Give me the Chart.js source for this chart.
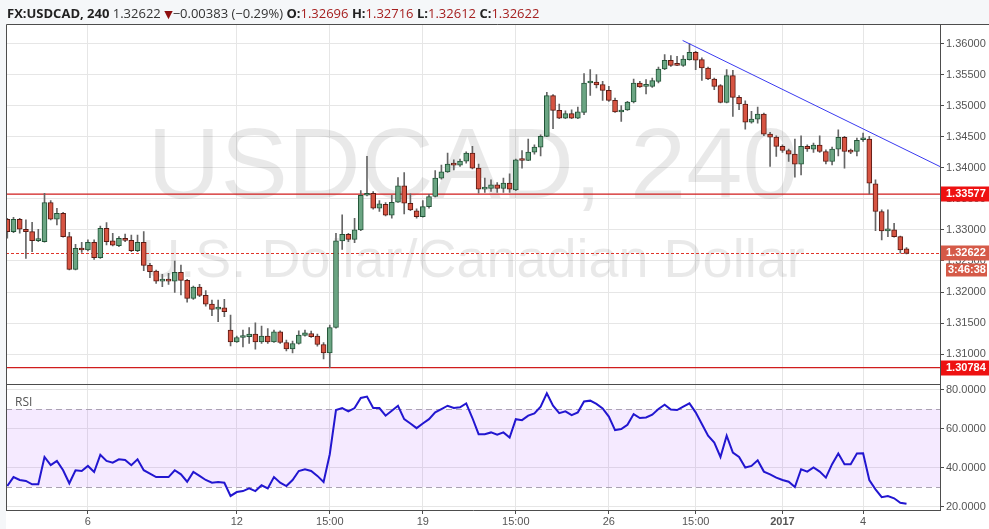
<!DOCTYPE html>
<html>
<head>
<meta charset="utf-8">
<script src="https://cdn.jsdelivr.net/npm/chart.js@4.4.1/dist/chart.umd.min.js"></script>
<style>
  html, body { margin: 0; padding: 0; background: #f5f7f9; }
  #wrap { position: relative; width: 989px; height: 529px; overflow: hidden; }
  #chart { position: absolute; left: 0; top: 0; }
  #hdr {
    position: absolute; left: 7px; top: 4px; white-space: nowrap;
    font: 13px "Open Sans", "DejaVu Sans", sans-serif; color: #333;
  }
  #hdr b { color: #222; }
  #hdr .v { color: #a51f1f; }
  #hdr .dn { color: #8e0f0f; font-size: 11px; }
</style>
</head>
<body>
<div id="wrap">
  <canvas id="chart" width="989" height="529"></canvas>
  <div id="hdr"><b>FX:USDCAD, 240</b> 1.32622 <span class="dn">&#9660;</span>&minus;0.00383 (&minus;0.29%) <b>O:</b><span class="v">1.32696</span> <b>H:</b><span class="v">1.32716</span> <b>L:</b><span class="v">1.32612</span> <b>C:</b><span class="v">1.32622</span></div>
</div>
<script>
// 4h candles, oldest first
const opens = [
  1.33172, 1.32973, 1.33172, 1.33011, 1.32973, 1.32828, 1.32812, 1.33441, 1.33172, 1.33269,
  1.32892, 1.32366, 1.32704, 1.32677, 1.32801, 1.32554, 1.33027, 1.32823, 1.32747, 1.32866,
  1.32833, 1.32667, 1.32801, 1.32430, 1.32339, 1.32177, 1.32188, 1.32177, 1.32317, 1.32188,
  1.31898, 1.32081, 1.31946, 1.31806, 1.31726, 1.31747, 1.31387, 1.31199, 1.31269, 1.31280,
  1.31323, 1.31199, 1.31290, 1.31199, 1.31360, 1.31188, 1.31086, 1.31172, 1.31301, 1.31333,
  1.31290, 1.31156, 1.31022, 1.31430, 1.32823, 1.32930, 1.32849, 1.33000, 1.33559, 1.33591,
  1.33349, 1.33414, 1.33236, 1.33446, 1.33710, 1.33430, 1.33306, 1.33215, 1.33376, 1.33538,
  1.33833, 1.33935, 1.34059, 1.34043, 1.34107, 1.34236, 1.33995, 1.33656, 1.33667, 1.33726,
  1.33667, 1.33753, 1.33645, 1.34129, 1.34118, 1.34253, 1.34333, 1.34505, 1.35161, 1.34925,
  1.34801, 1.34871, 1.34801, 1.34892, 1.35365, 1.35382, 1.35339, 1.35247, 1.35086, 1.34898,
  1.34930, 1.35059, 1.35365, 1.35312, 1.35312, 1.35392, 1.35591, 1.35731, 1.35661, 1.35650,
  1.35742, 1.35860, 1.35742, 1.35607, 1.35430, 1.35322, 1.35054, 1.35484, 1.35134, 1.35027,
  1.34736, 1.34785, 1.34865, 1.34543, 1.34494, 1.34344, 1.34279, 1.34220, 1.34059, 1.34344,
  1.34301, 1.34365, 1.34263, 1.34102, 1.34301, 1.34489, 1.34263, 1.34263, 1.34451, 1.34462,
  1.33742, 1.33296, 1.32984, 1.33000, 1.32892, 1.32696
]
const highs = [
  1.33188, 1.33204, 1.33188, 1.33161, 1.33124, 1.33011, 1.33591, 1.33473, 1.33349, 1.33285,
  1.32962, 1.32769, 1.32801, 1.32839, 1.32839, 1.33064, 1.33118, 1.32946, 1.32892, 1.32935,
  1.32919, 1.32919, 1.32973, 1.32462, 1.32355, 1.32285, 1.32301, 1.32500, 1.32435, 1.32204,
  1.32097, 1.32124, 1.32022, 1.31871, 1.31871, 1.31882, 1.31629, 1.31290, 1.31387, 1.31430,
  1.31505, 1.31452, 1.31414, 1.31387, 1.31376, 1.31226, 1.31210, 1.31376, 1.31387, 1.31371,
  1.31323, 1.31188, 1.31468, 1.32946, 1.33242, 1.32946, 1.33188, 1.33634, 1.34183, 1.33618,
  1.33473, 1.33441, 1.33559, 1.33844, 1.33925, 1.33581, 1.33339, 1.33473, 1.33575, 1.33957,
  1.34043, 1.34236, 1.34129, 1.34140, 1.34258, 1.34344, 1.34059, 1.33833, 1.33806, 1.33763,
  1.33833, 1.33903, 1.34140, 1.34279, 1.34462, 1.34371, 1.34532, 1.35215, 1.35177, 1.35027,
  1.34919, 1.34935, 1.34978, 1.35516, 1.35580, 1.35500, 1.35392, 1.35312, 1.35124, 1.35000,
  1.35070, 1.35430, 1.35392, 1.35419, 1.35446, 1.35623, 1.35822, 1.35806, 1.35795, 1.35806,
  1.36000, 1.35876, 1.35769, 1.35623, 1.35446, 1.35339, 1.35580, 1.35570, 1.35161, 1.35080,
  1.34908, 1.34978, 1.34882, 1.34570, 1.34516, 1.34371, 1.34301, 1.34462, 1.34516, 1.34371,
  1.34398, 1.34516, 1.34290, 1.34333, 1.34613, 1.34505, 1.34301, 1.34478, 1.34559, 1.34505,
  1.33806, 1.33323, 1.33323, 1.33107, 1.32903, 1.32716
]
const lows = [
  1.32866, 1.32957, 1.32946, 1.32543, 1.32650, 1.32812, 1.32801, 1.33161, 1.33081, 1.32882,
  1.32355, 1.32355, 1.32640, 1.32661, 1.32527, 1.32543, 1.32758, 1.32742, 1.32731, 1.32812,
  1.32650, 1.32650, 1.32344, 1.32231, 1.32140, 1.32086, 1.32124, 1.31995, 1.31952, 1.31839,
  1.31882, 1.31925, 1.31774, 1.31618, 1.31522, 1.31602, 1.31134, 1.31188, 1.31118, 1.31172,
  1.31081, 1.31172, 1.31172, 1.31188, 1.31172, 1.31054, 1.31022, 1.31161, 1.31290, 1.31269,
  1.31129, 1.30925, 1.30784, 1.31420, 1.32688, 1.32812, 1.32796, 1.32990, 1.33548, 1.33333,
  1.33296, 1.33226, 1.33188, 1.33441, 1.33258, 1.33312, 1.33188, 1.33204, 1.33349, 1.33530,
  1.33817, 1.33925, 1.33968, 1.34021, 1.34075, 1.33984, 1.33591, 1.33602, 1.33618, 1.33602,
  1.33602, 1.33602, 1.33634, 1.33995, 1.34113, 1.34220, 1.34193, 1.34500, 1.34629, 1.34790,
  1.34790, 1.34790, 1.34790, 1.34855, 1.35167, 1.35285, 1.35086, 1.35070, 1.34892, 1.34747,
  1.34925, 1.35043, 1.35296, 1.35188, 1.35296, 1.35365, 1.35580, 1.35634, 1.35645, 1.35634,
  1.35731, 1.35580, 1.35408, 1.35419, 1.35258, 1.35043, 1.35043, 1.34828, 1.34935, 1.34624,
  1.34720, 1.34720, 1.34516, 1.34021, 1.34183, 1.34247, 1.34102, 1.33849, 1.33887, 1.34263,
  1.34247, 1.34247, 1.34064, 1.34048, 1.34193, 1.33995, 1.34226, 1.34193, 1.34425, 1.33581,
  1.32989, 1.32839, 1.32892, 1.32882, 1.32624, 1.32612
]
const closes = [
  1.32973, 1.33172, 1.33011, 1.32973, 1.32828, 1.32849, 1.33441, 1.33172, 1.33269, 1.32892,
  1.32366, 1.32704, 1.32677, 1.32801, 1.32554, 1.33027, 1.32812, 1.32753, 1.32866, 1.32833,
  1.32667, 1.32801, 1.32430, 1.32328, 1.32177, 1.32188, 1.32177, 1.32317, 1.32188, 1.31898,
  1.32081, 1.31946, 1.31806, 1.31720, 1.31737, 1.31683, 1.31199, 1.31269, 1.31290, 1.31323,
  1.31199, 1.31290, 1.31199, 1.31360, 1.31188, 1.31086, 1.31172, 1.31307, 1.31344, 1.31280,
  1.31156, 1.31022, 1.31430, 1.32823, 1.32930, 1.32849, 1.33000, 1.33559, 1.33591, 1.33349,
  1.33419, 1.33236, 1.33446, 1.33710, 1.33430, 1.33323, 1.33215, 1.33376, 1.33538, 1.33833,
  1.33935, 1.34059, 1.34043, 1.34107, 1.34236, 1.33995, 1.33656, 1.33672, 1.33726, 1.33667,
  1.33753, 1.33656, 1.34129, 1.34118, 1.34253, 1.34333, 1.34505, 1.35161, 1.34925, 1.34801,
  1.34871, 1.34801, 1.34903, 1.35365, 1.35382, 1.35333, 1.35247, 1.35086, 1.34898, 1.34930,
  1.35059, 1.35365, 1.35301, 1.35322, 1.35403, 1.35591, 1.35731, 1.35650, 1.35650, 1.35752,
  1.35860, 1.35731, 1.35607, 1.35430, 1.35312, 1.35054, 1.35484, 1.35134, 1.35027, 1.34736,
  1.34785, 1.34865, 1.34543, 1.34494, 1.34344, 1.34279, 1.34220, 1.34059, 1.34344, 1.34306,
  1.34365, 1.34263, 1.34102, 1.34301, 1.34489, 1.34263, 1.34253, 1.34441, 1.34462, 1.33753,
  1.33296, 1.32984, 1.33000, 1.32892, 1.32677, 1.32622
]
const rsi = [
  30.5, 35.1, 33.6, 33.1, 31.4, 31.4, 45.4, 41.2, 43.4, 38.6,
  31.9, 38.6, 38.2, 40.8, 37.7, 46.5, 43.4, 42.5, 44.2, 43.9,
  41.2, 44.2, 38.6, 36.9, 35.1, 35.1, 35.1, 38.6, 36.5, 32.7,
  37.7, 35.7, 33.6, 32.2, 32.6, 32.2, 25.4, 27.4, 27.9, 29.3,
  27.9, 30.9, 29.3, 35.1, 32.2, 30.5, 33.6, 38.2, 39.1, 38.2,
  35.7, 32.6, 46.8, 69.5, 70.5, 68.8, 70.5, 75.7, 76.4, 70.5,
  70.5, 66.6, 69.1, 71.7, 64.8, 62.6, 60.2, 62.6, 64.8, 68.3,
  70.0, 71.7, 70.5, 70.9, 72.9, 65.4, 57.1, 57.1, 58.0, 56.8,
  58.0, 55.4, 64.8, 64.3, 66.6, 67.8, 71.2, 78.1, 71.7, 67.9,
  68.8, 66.9, 68.3, 73.9, 74.3, 72.6, 70.3, 66.1, 59.2, 59.7,
  61.9, 67.4, 65.4, 65.7, 67.1, 70.0, 72.2, 69.7, 69.5, 71.2,
  72.9, 68.3, 62.3, 56.3, 52.8, 45.4, 56.3, 47.7, 45.4, 40.0,
  40.8, 43.7, 37.9, 36.5, 34.8, 33.6, 32.7, 30.0, 39.1, 37.9,
  40.0, 37.9, 34.8, 41.7, 47.2, 41.7, 41.7, 47.2, 47.3, 33.6,
  28.8, 24.8, 25.4, 24.2, 21.9, 21.4
]

// axis ticks
const timeTickIdx = [13, 37, 52, 67, 82, 97, 111, 125, 138]
const timeTickLabels = ['6', '12', '15:00', '19', '15:00', '26', '15:00', '2017', '4']
const priceTicks = [1.31, 1.315, 1.32, 1.325, 1.33, 1.335, 1.34, 1.345, 1.35, 1.355, 1.36]
const rsiTicks = [20, 40, 60, 80]
const rsiBand = [30, 70]

// drawn levels
const levels = [1.33577, 1.30784]
const lastPrice = 1.32622
const countdown = '3:46:38'
const trendX = [108.9, 150.4]
const trendY = [1.3605, 1.3402]

const UP = '#6ba583', DOWN = '#d75442'
const UP_BORDER = '#225437', DOWN_BORDER = '#5b1a13'
const FRAME = '#4d4d4d'
const GRID = '#e6e6e6'
const TEXT = '#555'

const idx = closes.map((_, i) => i)
const isUp = i => closes[i] >= opens[i]

const fixWidth = w => scale => { scale.width = w }

const panesPlugin = {
  id: 'panes',
  beforeDraw(chart) {
    const { ctx, chartArea } = chart
    ctx.save()
    ctx.fillStyle = '#fff'
    ctx.fillRect(chartArea.left, chartArea.top, chart.width - chartArea.left, chart.height - chartArea.top)
    ctx.restore()
  },
  beforeDatasetsDraw(chart) {
    const { ctx, chartArea } = chart
    const y = chart.scales.y, y2 = chart.scales.y2
    const cx = (chartArea.left + chartArea.right) / 2
    ctx.save()
    // watermark
    ctx.fillStyle = 'rgba(0,0,0,0.085)'
    ctx.textAlign = 'center'
    ctx.textBaseline = 'middle'
    const ph = y.bottom - y.top
    ctx.font = '101px "Liberation Sans", Arial, sans-serif'
    ctx.fillText('USDCAD, 240', cx, y.top + ph * 0.405)
    ctx.font = '54px "Liberation Sans", Arial, sans-serif'
    ctx.fillText('U.S. Dollar/Canadian Dollar', cx, y.top + ph * 0.66)

    // RSI band
    const b0 = y2.getPixelForValue(rsiBand[1]), b1 = y2.getPixelForValue(rsiBand[0])
    ctx.fillStyle = 'rgba(160, 60, 255, 0.11)'
    ctx.fillRect(chartArea.left, b0, chartArea.right - chartArea.left, b1 - b0)
    ctx.strokeStyle = '#aaa2b2'
    ctx.lineWidth = 1
    ctx.setLineDash([6, 4])
    rsiBand.forEach(v => {
      const py = Math.round(y2.getPixelForValue(v)) + 0.5
      ctx.beginPath(); ctx.moveTo(chartArea.left, py); ctx.lineTo(chartArea.right, py); ctx.stroke()
    })

    // horizontal levels
    ctx.setLineDash([])
    ctx.strokeStyle = '#d01c1c'
    ctx.lineWidth = 1.3
    levels.forEach(v => {
      const py = y.getPixelForValue(v)
      ctx.beginPath(); ctx.moveTo(chartArea.left, py); ctx.lineTo(chartArea.right, py); ctx.stroke()
    })
    ctx.setLineDash([3, 2])
    ctx.lineWidth = 1
    ctx.strokeStyle = '#e0352a'
    const lp = Math.round(y.getPixelForValue(lastPrice)) + 0.5
    ctx.beginPath(); ctx.moveTo(chartArea.left, lp); ctx.lineTo(chartArea.right, lp); ctx.stroke()
    ctx.restore()
  },
  afterDraw(chart) {
    const { ctx, chartArea } = chart
    const y = chart.scales.y
    ctx.save()
    // frame and pane separator
    ctx.strokeStyle = FRAME
    ctx.lineWidth = 1
    ctx.beginPath()
    ctx.moveTo(chartArea.left + 0.5, chartArea.bottom)
    ctx.lineTo(chartArea.left + 0.5, chartArea.top + 0.5)
    ctx.lineTo(chart.width, chartArea.top + 0.5)
    ctx.moveTo(chartArea.left, Math.round(y.bottom) + 0.5)
    ctx.lineTo(chartArea.right, Math.round(y.bottom) + 0.5)
    ctx.stroke()

    ctx.fillStyle = TEXT
    ctx.font = '12px "Open Sans", sans-serif'
    ctx.textBaseline = 'middle'
    ctx.fillText('RSI', chartArea.left + 9, y.bottom + 18)

    // price labels on the axis
    const tag = (v, text, color, x0, x1) => {
      const py = y.getPixelForValue(v)
      ctx.fillStyle = color
      ctx.fillRect(x0, Math.round(py) - 7.5, x1 - x0, 15)
      ctx.fillStyle = '#fff'
      ctx.font = 'bold 11px "Liberation Sans", Arial, sans-serif'
      ctx.textAlign = 'left'
      ctx.fillText(text, chartArea.right + 6, Math.round(py))
    }
    levels.forEach(v => tag(v, v.toFixed(5), '#ee1111', chartArea.right + 1, chart.width))
    tag(lastPrice, lastPrice.toFixed(5), '#d55a48', chartArea.right + 1, chart.width)
    const cy = Math.round(y.getPixelForValue(lastPrice)) + 17
    ctx.fillStyle = '#d55a48'
    ctx.fillRect(chartArea.right + 6, cy - 6.5, 41, 13)
    ctx.fillStyle = '#fff'
    ctx.fillText(countdown, chartArea.right + 8, cy)
    ctx.restore()
  }
}

new Chart(document.getElementById('chart'), {
  type: 'bar',
  data: {
    datasets: [
      {
        type: 'line',
        data: trendX.map((x, i) => ({ x, y: trendY[i] })),
        yAxisID: 'y',
        borderColor: '#3a3af0',
        borderWidth: 1,
        pointRadius: 0,
        order: 0
      },
      {
        data: idx.map(i => ({ x: i, y: [opens[i], closes[i]] })),
        yAxisID: 'y',
        grouped: false,
        barThickness: 5,
        minBarLength: 2,
        borderWidth: 1,
        borderSkipped: false,
        backgroundColor: c => isUp(c.dataIndex) ? UP : DOWN,
        borderColor: c => isUp(c.dataIndex) ? UP_BORDER : DOWN_BORDER,
        order: 1
      },
      {
        data: idx.map(i => ({ x: i, y: [lows[i], highs[i]] })),
        yAxisID: 'y',
        grouped: false,
        barThickness: 1,
        borderWidth: 0,
        backgroundColor: '#666',
        order: 2
      },
      {
        type: 'line',
        data: idx.map(i => ({ x: i, y: rsi[i] })),
        yAxisID: 'y2',
        borderColor: '#2216d0',
        borderWidth: 2,
        pointRadius: 0,
        tension: 0,
        order: 0
      }
    ]
  },
  options: {
    responsive: false,
    animation: false,
    devicePixelRatio: 1,
    layout: { padding: { left: 6, top: 24, right: 0, bottom: 0 } },
    plugins: { legend: { display: false }, tooltip: { enabled: false } },
    scales: {
      x: {
        type: 'linear',
        offset: false,
        min: -0.21,
        max: 150.4,
        afterBuildTicks: s => { s.ticks = timeTickIdx.map(v => ({ value: v })) },
        afterFit: s => { s.height = 19 },
        ticks: {
          autoSkip: false,
          maxRotation: 0,
          padding: 1,
          color: TEXT,
          font: c => ({ size: 11, family: '"Liberation Sans", Arial, sans-serif',
                        weight: c.tick && c.tick.value === 125 ? 'bold' : 'normal' }),
          callback: v => timeTickLabels[timeTickIdx.indexOf(v)]
        },
        grid: { color: GRID, tickLength: 4, tickColor: FRAME, offset: false },
        border: { color: FRAME }
      },
      y: {
        position: 'right',
        stack: 'panes',
        stackWeight: 359.5,
        min: 1.30516,
        max: 1.36315,
        afterBuildTicks: s => { s.ticks = priceTicks.map(v => ({ value: v })) },
        afterFit: fixWidth(49),
        ticks: {
          padding: 2,
          color: TEXT,
          font: { size: 11, family: '"Liberation Sans", Arial, sans-serif' },
          callback: v => v.toFixed(5)
        },
        grid: { color: GRID, tickLength: 4, tickColor: FRAME },
        border: { color: FRAME }
      },
      y2: {
        position: 'right',
        stack: 'panes',
        stackWeight: 125.5,
        min: 18.2,
        max: 82.72,
        afterBuildTicks: s => { s.ticks = rsiTicks.map(v => ({ value: v })) },
        afterFit: fixWidth(49),
        ticks: {
          padding: 2,
          color: TEXT,
          font: { size: 11, family: '"Liberation Sans", Arial, sans-serif' },
          callback: v => v.toFixed(4)
        },
        grid: { color: GRID, tickLength: 4, tickColor: FRAME },
        border: { color: FRAME }
      }
    }
  },
  plugins: [panesPlugin]
})
</script>
</body>
</html>
